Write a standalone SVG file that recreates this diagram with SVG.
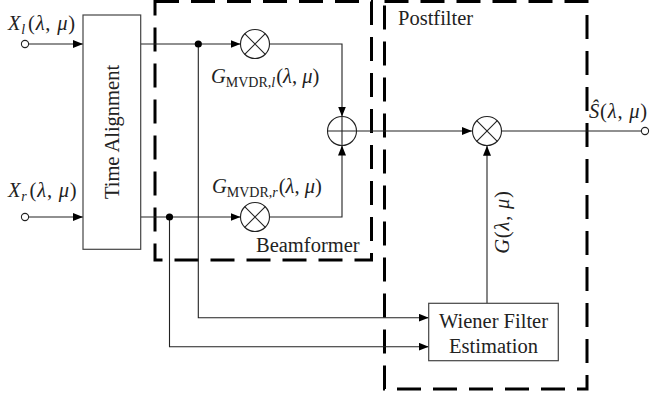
<svg xmlns="http://www.w3.org/2000/svg" width="652" height="398" viewBox="0 0 652 398">
<style>
text{font-family:"Liberation Serif","Times New Roman",serif;font-size:20.5px;fill:#222}
.i{font-style:italic}
.m{letter-spacing:0.8px}
.ln{fill:none;stroke:#222;stroke-width:1.1}
.box{fill:#fff;stroke:#444;stroke-width:1.2}
.op{fill:#fff;stroke:#222;stroke-width:1.1}
.dash{fill:none;stroke:#000;stroke-width:3;stroke-dasharray:24 12}
.dot{fill:#000}
.port{fill:#fff;stroke:#222;stroke-width:1.1}
</style>
<defs>
<marker id="ah" viewBox="0 0 10 8" refX="10" refY="4" markerWidth="10" markerHeight="8" markerUnits="userSpaceOnUse" orient="auto">
<path d="M0,0 L10,4 L0,8 z" fill="#000"/>
</marker>
</defs>
<rect width="652" height="398" fill="#fff"/>

<g id="groups">
<rect id="beamformer-box" class="dash" x="155" y="1.5" width="216.5" height="258.5"/>
<rect id="postfilter-box" class="dash" x="384.5" y="1.5" width="202.5" height="387.5"/>
<text x="256" y="252">Beamformer</text>
<text x="398" y="25">Postfilter</text>
</g>

<g id="connectors">
<path class="ln" d="M28.5,44 H83" marker-end="url(#ah)"/>
<path class="ln" d="M28.5,217 H83" marker-end="url(#ah)"/>
<path class="ln" d="M140.7,44 H240.5" marker-end="url(#ah)"/>
<path class="ln" d="M269.5,44 H342 V116.5" marker-end="url(#ah)"/>
<path class="ln" d="M140.7,217 H240.5" marker-end="url(#ah)"/>
<path class="ln" d="M269.5,217 H342 V145.5" marker-end="url(#ah)"/>
<path class="ln" d="M356.5,131 H472" marker-end="url(#ah)"/>
<path class="ln" d="M501.5,131 H641.5"/>
<path class="ln" d="M487,303.3 V145.8" marker-end="url(#ah)"/>
<path class="ln" d="M198.3,44 V317.7 H428.7" marker-end="url(#ah)"/>
<path class="ln" d="M169.5,217 V346.7 H428.7" marker-end="url(#ah)"/>
<circle class="dot" cx="198.3" cy="44" r="3.6"/>
<circle class="dot" cx="169.5" cy="217" r="3.6"/>
</g>

<g id="in-left">
<circle class="port" cx="25" cy="44" r="3.6"/>
<text class="m" x="8" y="30"><tspan class="i">X</tspan><tspan class="i" font-size="14" dy="4">l</tspan><tspan dx="2" dy="-4">(</tspan><tspan class="i">λ</tspan>, <tspan class="i">μ</tspan>)</text>
</g>
<g id="in-right">
<circle class="port" cx="25" cy="217" r="3.6"/>
<text class="m" x="8" y="197"><tspan class="i">X</tspan><tspan class="i" font-size="14" dy="4">r</tspan><tspan dx="2" dy="-4">(</tspan><tspan class="i">λ</tspan>, <tspan class="i">μ</tspan>)</text>
</g>

<g id="time-alignment">
<rect class="box" x="83" y="15" width="57.7" height="234.3"/>
<text transform="translate(119,132) rotate(-90)" text-anchor="middle">Time Alignment</text>
</g>

<g id="mult-left">
<circle class="op" cx="255" cy="44" r="14.5"/>
<path class="ln" d="M244.7,33.7 L265.3,54.3 M265.3,33.7 L244.7,54.3"/>
<text x="211" y="83"><tspan class="i">G</tspan><tspan font-size="14" dy="4">MVDR,</tspan><tspan class="i" font-size="14">l</tspan><tspan dx="1" dy="-4">(</tspan><tspan class="i">λ</tspan>, <tspan class="i">μ</tspan>)</text>
</g>

<g id="mult-right">
<circle class="op" cx="255" cy="217" r="14.5"/>
<path class="ln" d="M244.7,206.7 L265.3,227.3 M265.3,206.7 L244.7,227.3"/>
<text x="212" y="193"><tspan class="i">G</tspan><tspan font-size="14" dy="4">MVDR,</tspan><tspan class="i" font-size="14">r</tspan><tspan dx="1" dy="-4">(</tspan><tspan class="i">λ</tspan>, <tspan class="i">μ</tspan>)</text>
</g>

<g id="adder">
<circle class="op" cx="342" cy="131" r="14.5"/>
<path class="ln" stroke="#555" d="M327.5,131 H356.5 M342,116.5 V145.5"/>
</g>

<g id="mult-post">
<circle class="op" cx="487" cy="131" r="14.5"/>
<path class="ln" d="M476.7,120.7 L497.3,141.3 M497.3,120.7 L476.7,141.3"/>
<text class="m" transform="translate(509,222) rotate(-90)" text-anchor="middle"><tspan class="i">G</tspan>(<tspan class="i">λ</tspan>, <tspan class="i">μ</tspan>)</text>
</g>

<g id="output">
<circle class="port" cx="645" cy="131" r="3.6"/>
<text class="m" x="589" y="118"><tspan class="i">Ŝ</tspan>(<tspan class="i">λ</tspan>, <tspan class="i">μ</tspan>)</text>
</g>

<g id="wiener">
<rect class="box" x="428.7" y="303.3" width="129.6" height="57.4"/>
<text x="493.5" y="327.5" text-anchor="middle">Wiener Filter</text>
<text x="493.5" y="353.3" text-anchor="middle">Estimation</text>
</g>
</svg>
